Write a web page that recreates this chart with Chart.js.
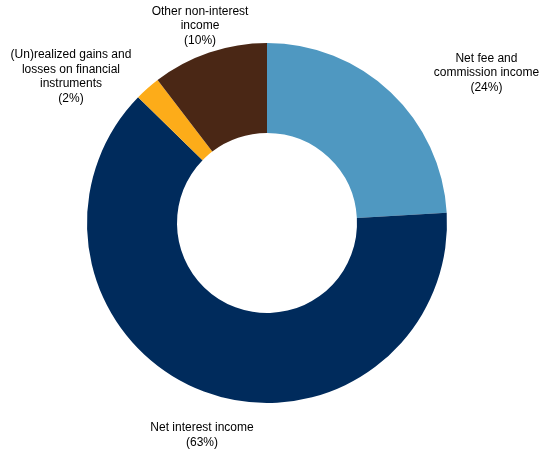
<!DOCTYPE html>
<html>
<head>
<meta charset="utf-8">
<script src="https://cdn.jsdelivr.net/npm/chart.js@4"></script>
<style>
html,body{margin:0;padding:0;background:#fff;}
#wrap{width:541px;height:453px;position:relative;}
</style>
</head>
<body>
<div id="wrap"><canvas id="c" width="541" height="453"></canvas></div>
<script>
const categories = [
  ["Net fee and", "commission income"],
  ["Net interest income"],
  ["(Un)realized gains and", "losses on financial", "instruments"],
  ["Other non-interest", "income"]
];
const values = [24.1, 63.2, 2.3, 10.4];
const percentLabels = ["(24%)", "(63%)", "(2%)", "(10%)"];
const colors = ["#4f98c1", "#002b5c", "#fdac19", "#4a2715"];

// label anchor offsets, in units of the outer radius, from the chart centre
const labelOffsets = [[1.219, -0.835], [-0.361, 1.178], [-1.089, -0.813], [-0.372, -1.094]];

const labelPlugin = {
  id: 'outsideLabels',
  afterDatasetsDraw(chart) {
    const ctx = chart.ctx;
    const meta = chart.getDatasetMeta(0);
    ctx.save();
    ctx.font = '12px "Liberation Sans", Arial, sans-serif';
    ctx.fillStyle = '#000';
    ctx.textAlign = 'center';
    ctx.textBaseline = 'middle';
    const lh = 14.5;
    meta.data.forEach((arc, i) => {
      const R = arc.outerRadius;
      const cx = arc.x + labelOffsets[i][0] * R;
      const cy = arc.y + labelOffsets[i][1] * R;
      const lines = categories[i].concat([percentLabels[i]]);
      const y0 = cy - (lines.length - 1) * lh / 2;
      lines.forEach((t, k) => ctx.fillText(t, cx, y0 + k * lh));
    });
    ctx.restore();
  }
};

new Chart(document.getElementById('c'), {
  type: 'doughnut',
  data: {
    labels: categories.map(c => c.join(' ')),
    datasets: [{
      data: values,
      backgroundColor: colors,
      borderWidth: 0,
      hoverOffset: 0
    }]
  },
  options: {
    responsive: false,
    animation: false,
    cutout: '50%',
    layout: { padding: { left: 87, right: 94, top: 43, bottom: 50 } },
    plugins: { legend: { display: false }, tooltip: { enabled: false } }
  },
  plugins: [labelPlugin]
});
</script>
</body>
</html>
